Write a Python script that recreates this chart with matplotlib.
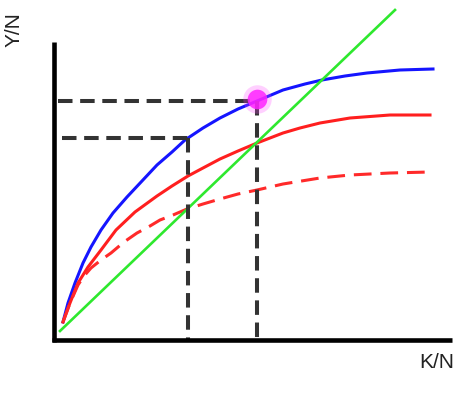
import matplotlib
matplotlib.use("Agg")
import matplotlib.pyplot as plt

# capital per worker (K/N) and output per worker (Y/N)
k_high = [9, 14, 21, 29, 37, 47, 59, 73, 88, 103, 118, 131, 149, 166, 184, 203,
          229, 251, 268, 291, 313, 346, 379]
y_high = [18, 37, 57, 77, 93, 110, 127, 143, 159, 175, 188, 200, 212, 222, 231, 239,
          250, 256, 260, 264, 267, 270, 271]

k_low = [9, 16, 24, 34, 47, 62, 81, 103, 118, 134, 149, 166, 184, 203, 229, 246,
         266, 296, 336, 376]
y_low = [18, 37, 57, 73, 90, 110, 128, 144, 154, 164, 172, 181, 189, 197, 207, 212,
         217, 222, 225, 225]

k_save = [9, 16, 24, 30, 37, 47, 57, 70, 83, 96, 106, 119, 133, 149, 166, 184,
          203, 229, 266, 296, 336, 376]
y_save = [18, 37, 55, 64, 72, 80, 87, 98, 107, 114, 120, 125, 131, 136, 141, 146,
          150, 156, 162, 165, 167, 168]

# break-even investment line
k_dep = [6, 341]
y_dep = [9, 330]

# guide levels
k_old, y_old = 134, 202
k_new, y_new = 203, 239

fig = plt.figure(figsize=(4.74, 3.98), dpi=100)
ax = fig.add_axes([0, 0, 1, 1])
ax.set_xlim(-54, 420)
ax.set_ylim(-58, 340)
ax.axis("off")

# axes
ax.plot([0, 0], [-2, 298], color="black", lw=3.3, solid_capstyle="butt", zorder=5)
ax.plot([-2, 398], [0, 0], color="black", lw=3.3, solid_capstyle="butt", zorder=5)

# curves
ax.plot(k_high, y_high, color="#1515ff", lw=2.2, solid_joinstyle="round")
ax.plot(k_low, y_low, color="#ff1f1f", lw=2.2, solid_joinstyle="round")
ax.plot(k_save, y_save, color="#ff2a2a", lw=2.2, linestyle=(0, (5.8, 2.9)))
ax.plot(k_dep, y_dep, color="#2ee82e", lw=1.9)

# dashed guides
dash = dict(color="#333333", lw=2.9, linestyle=(0, (3.6, 1.9)), zorder=4)
ax.plot([4, k_new], [y_new, y_new], **dash)
ax.plot([8, k_old], [y_old, y_old], **dash)
ax.plot([k_old, k_old], [y_old, 0], **dash)
ax.plot([k_new, k_new], [y_new, 0], **dash)

# steady state marker
ax.scatter([k_new], [y_new + 2], s=420, color="#ff44ff", alpha=0.25, lw=0, zorder=6)
ax.scatter([k_new], [y_new + 2], s=200, color="#ff22ff", alpha=0.85, lw=0, zorder=6)

ax.text(-40, 310, "Y/N", rotation=90, ha="center", va="center",
        fontsize=15, family="Liberation Sans", color="#222222")
ax.text(383, -22, "K/N", ha="center", va="center",
        fontsize=15, family="Liberation Sans", color="#222222")

fig.savefig("out.png", dpi=100)
